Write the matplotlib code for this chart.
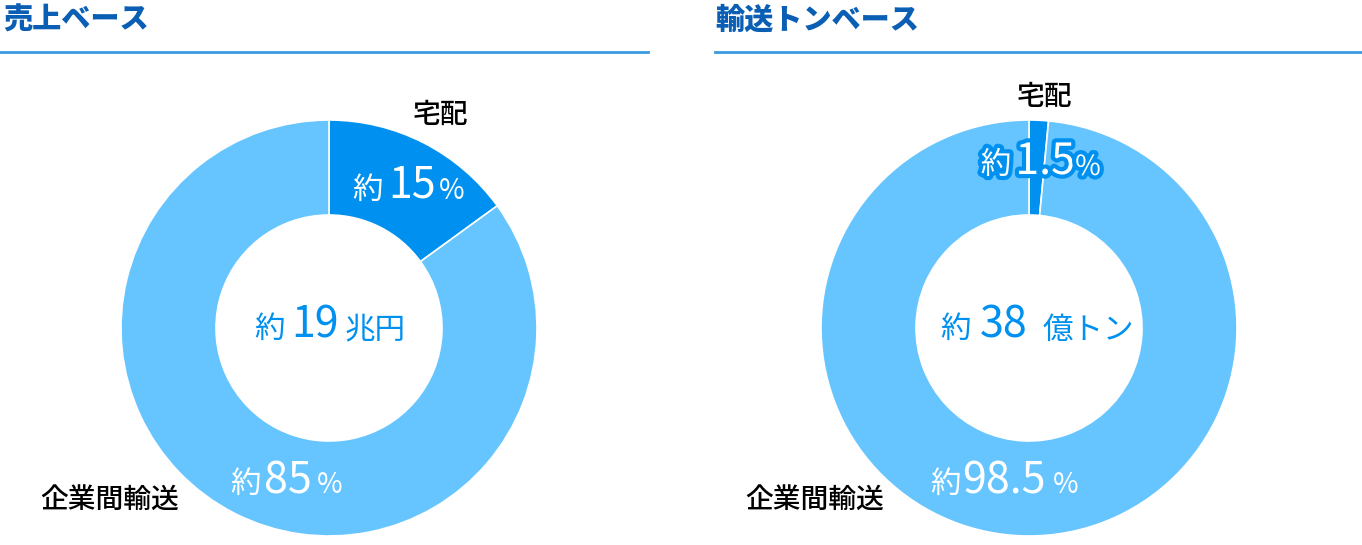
import matplotlib
matplotlib.use("Agg")
import matplotlib.pyplot as plt
import matplotlib.patheffects as pe

plt.rcParams['font.family'] = ['Noto Sans CJK JP', 'DejaVu Sans']

titles = ["売上ベース", "輸送トンベース"]
categories = ["宅配", "企業間輸送"]
sales_share = [15, 85]
tonnage_share = [1.5, 98.5]
center_nums = ["19", "38"]
center_units = ["兆円", "億トン"]

DARK = "#0091f0"
LIGHT = "#66c5ff"
W, H = 1362, 545
fig = plt.figure(figsize=(W/100, H/100), dpi=100)
ax = fig.add_axes([0, 0, 1, 1])
Y = lambda y: H - y

def pie(cx, vals):
    ax.pie(vals, colors=[DARK, LIGHT], startangle=90, counterclock=False,
           center=(cx, Y(328)), radius=208, frame=True,
           wedgeprops=dict(width=95, edgecolor='white', linewidth=1.2))
pie(329, sales_share)
pie(1029, tonnage_share)
ax.set_xlim(0, W); ax.set_ylim(0, H); ax.set_aspect('equal'); ax.axis('off')

def t(x, y, s, size, color, **kw):
    ax.text(x, Y(y), s, fontsize=size, color=color, ha='center', va='center', **kw)

for x0, x1, title in [(3, 648, titles[0]), (715, 1362, titles[1])]:
    ax.text(x0, Y(20), title, fontsize=21, fontweight='heavy', color='#0a5fb4', ha='left', va='center')
    ax.plot([0 if x0 == 3 else x0, x1], [Y(52), Y(52)], color='#3a9be0', lw=2)

LS = 20
t(440, 114, categories[0], LS, 'black', fontweight='medium')
t(110, 500, categories[1], LS, 'black', fontweight='medium')
t(1044, 96, categories[0], LS, 'black', fontweight='medium')
t(815, 500, categories[1], LS, 'black', fontweight='medium')

KS, NS, PS = 22, 31, 20
t(367, 190, "約", KS, 'white'); t(412, 186, "15", NS, 'white'); t(452, 191, "%", PS, 'white')
t(269, 329, "約", KS, DARK); t(315, 326, center_nums[0], NS, DARK); t(375, 330, center_units[0], KS, DARK)
t(245, 484, "約", KS, 'white'); t(288, 481, "85", NS, 'white'); t(330, 485, "%", PS, 'white')

st = [pe.withStroke(linewidth=6, foreground=DARK)]
t(996, 165, "約", KS, 'white', path_effects=st)
t(1045, 162, "1.5", NS, 'white', path_effects=st)
t(1088, 167, "%", PS, 'white', path_effects=st)
t(955, 329, "約", KS, DARK); t(1004, 326, center_nums[1], NS, DARK); t(1088, 330, center_units[1], KS, DARK)
t(945, 484, "約", KS, 'white'); t(1004, 481, "98.5", NS, 'white'); t(1066, 485, "%", PS, 'white')

fig.savefig("out.png", dpi=100)
